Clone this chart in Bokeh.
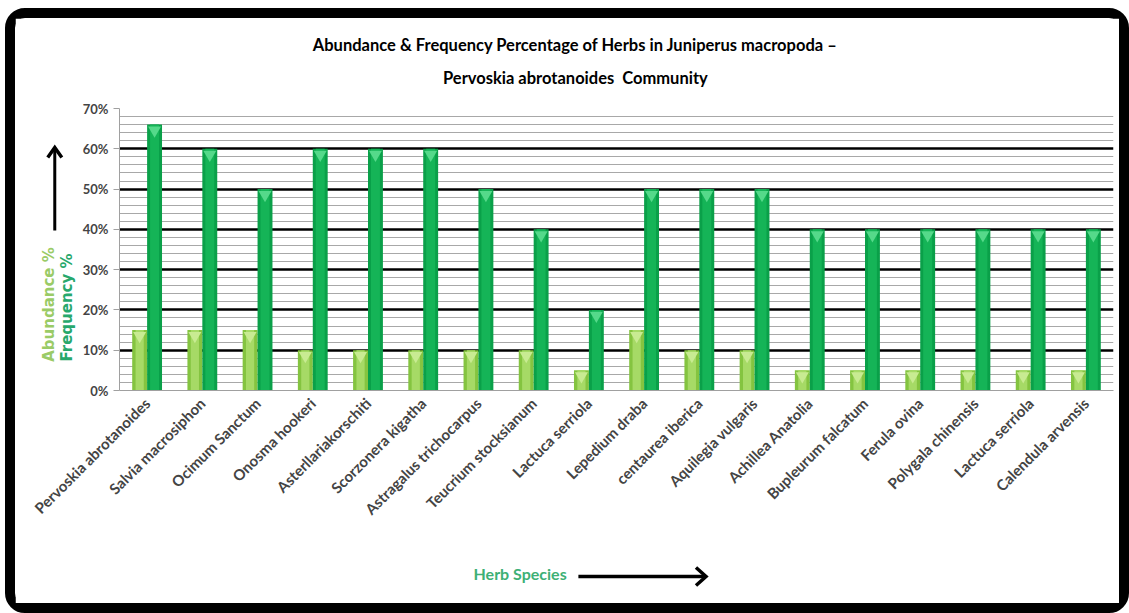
import numpy as np
from bokeh.plotting import figure
from bokeh.layouts import column
from bokeh.models import ColumnDataSource, FixedTicker, Range1d
from bokeh.core.properties import value
from bokeh.transform import dodge
from bokeh.embed import file_html
from bokeh.resources import INLINE

species = ["Pervoskia abrotanoides", "Salvia macrosiphon", "Ocimum Sanctum",
           "Onosma hookeri", "Asterllariakorschiti", "Scorzonera kigatha",
           "Astragalus trichocarpus", "Teucrium stocksianum", "Lactuca serriola",
           "Lepedium draba", "centaurea iberica", "Aquilegia vulgaris",
           "Achillea Anatolia", "Bupleurum falcatum", "Ferula ovina",
           "Polygala chinensis", "Lactuca serriola", "Calendula arvensis"]
abundance = [15, 15, 15, 10, 10, 10, 10, 10, 5, 15, 10, 10, 5, 5, 5, 5, 5, 5]
frequency = [66, 60, 50, 60, 60, 60, 50, 40, 20, 50, 50, 50, 40, 40, 40, 40, 40, 40]
y_ticks = [0, 10, 20, 30, 40, 50, 60, 70]
y_tick_labels = ["0%", "10%", "20%", "30%", "40%", "50%", "60%", "70%"]
title_lines = ["Abundance & Frequency Percentage of Herbs in Juniperus macropoda \u2013",
               "Pervoskia abrotanoides\u00a0 Community"]
y_label_lines = ["Abundance %", "Frequency %"]
x_label = "Herb Species"

positions = list(range(1, len(species) + 1))
src = ColumnDataSource(dict(x=positions, ab=abundance, fr=frequency,
                            ab_cap=[v - 1.4 for v in abundance],
                            fr_cap=[v - 1.4 for v in frequency]))

FONT = "Lato"
LEFT, RIGHT = 104, 26
P_WIDTH = 1124
FRAME_W = P_WIDTH - LEFT - RIGHT
p = figure(width=P_WIDTH, height=605, x_range=Range1d(0.5, 18.5), y_range=Range1d(0, 70),
           output_backend="svg", toolbar_location=None,
           min_border_left=LEFT, min_border_right=RIGHT, min_border_top=90,
           min_border_bottom=233)
p.margin = (8, 0, 0, 5)
p.styles = {"border": "10px solid black", "border-radius": "20px"}
p.outline_line_color = None

p.xgrid.visible = False
minor = [v for v in range(2, 70, 2) if v % 10 != 0]
p.ygrid.ticker = FixedTicker(ticks=y_ticks[1:], minor_ticks=minor)
p.ygrid.grid_line_color = "black"
p.ygrid.grid_line_width = 2.5
p.ygrid.minor_grid_line_color = "#A8A8A8"
p.ygrid.minor_grid_line_width = 1

p.yaxis.ticker = FixedTicker(ticks=y_ticks)
p.yaxis.major_label_overrides = {t: l for t, l in zip(y_ticks, y_tick_labels)}
p.yaxis.axis_line_color = "#A0A0A0"
p.yaxis.major_tick_line_color = "#A0A0A0"
p.yaxis.major_tick_in = 0
p.yaxis.major_tick_out = 6
p.yaxis.minor_tick_line_color = None
p.yaxis.major_label_text_font = FONT
p.yaxis.major_label_text_font_style = "bold"
p.yaxis.major_label_text_font_size = "13px"
p.yaxis.major_label_standoff = 5

p.xaxis.ticker = FixedTicker(ticks=positions)
p.xaxis.major_label_overrides = {x: s for x, s in zip(positions, species)}
p.xaxis.axis_line_color = "#A0A0A0"
p.xaxis.major_tick_line_color = None
p.xaxis.minor_tick_line_color = None
p.xaxis.major_label_orientation = np.pi / 4
p.xaxis.major_label_text_font = FONT
p.xaxis.major_label_text_font_style = "bold"
p.xaxis.major_label_text_font_size = "15px"
p.xaxis.major_label_standoff = 4

W = 0.27
p.vbar(x=dodge("x", -0.135), top="ab", width=W, source=src,
       fill_color="#84C440", line_color=None)
p.vbar(x=dodge("x", -0.135), top="ab", width=W * 0.55, source=src,
       fill_color="#A6DA66", line_color=None)
p.vbar(x=dodge("x", 0.135), top="fr", width=W, source=src,
       fill_color="#0AA049", line_color=None)
p.vbar(x=dodge("x", 0.135), top="fr", width=W * 0.6, source=src,
       fill_color="#15B457", line_color=None)
p.scatter(x=dodge("x", -0.135), y="ab_cap", source=src, marker="inverted_triangle",
          size=13, fill_color="#C8EB92", line_color=None)
p.scatter(x=dodge("x", 0.135), y="fr_cap", source=src, marker="inverted_triangle",
          size=13, fill_color="#55D98A", line_color=None)

# transparent overlay in page pixel coordinates (y down) for the titles, axis
# captions and arrows outside the plot frame. Its frame is aligned with the main
# plot's frame (same left border and width), so it is shifted left by LEFT to make
# its frame start at page x = 0 and span FRAME_W pixels.
q = figure(width=1129 + LEFT, height=613, x_range=Range1d(0, FRAME_W),
           y_range=Range1d(613, 0), x_axis_type=None, y_axis_type=None,
           output_backend="svg", toolbar_location=None, min_border_top=0,
           min_border_bottom=0, min_border_left=LEFT, min_border_right=RIGHT)
q.background_fill_color = None
q.border_fill_color = None
q.outline_line_color = None
q.styles = {"position": "absolute", "top": "0px", "left": f"-{LEFT}px",
            "pointer-events": "none"}

q.text(x=[572, 572], y=[44, 77], text=title_lines, text_align="center",
       text_baseline="middle", text_font=value(FONT), text_font_style="bold",
       text_font_size="16.5px", text_color="black")
q.text(x=[48, 66], y=[304, 307], text=y_label_lines, angle=np.pi / 2,
       text_align="center", text_baseline="middle", text_font=value("DejaVu Sans"),
       text_font_style="bold", text_font_size="15px", text_color=["#9ACB66", "#27A86C"])
q.text(x=[517], y=[573], text=[x_label], text_align="center", text_baseline="middle",
       text_font=value(FONT), text_font_style="bold", text_font_size="16px",
       text_color="#3DB075")
# arrows
q.segment(x0=[54, 575], y0=[230, 576], x1=[54, 700], y1=[148, 576],
          line_width=[3, 3.5], line_color="black")
q.multi_line(xs=[[47, 54, 61], [692, 702, 692]], ys=[[157, 147, 157], [567, 576, 585]],
             line_width=3.5, line_color="black", line_join="miter")

root = column(p, q)
open("out.html", "w").write(file_html(root, INLINE))
